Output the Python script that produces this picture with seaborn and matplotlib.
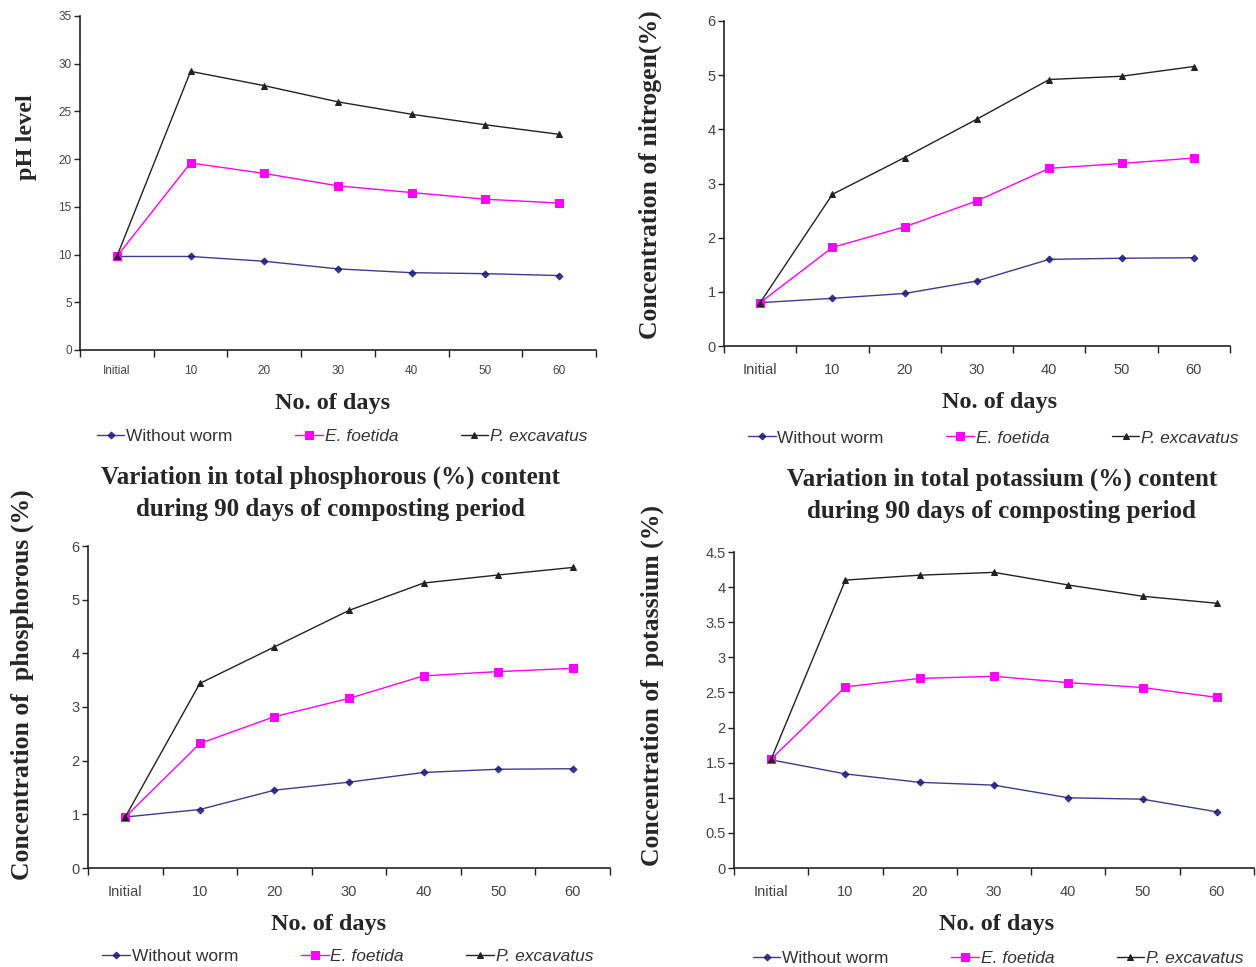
import numpy as np
import pandas as pd
import matplotlib
matplotlib.use("Agg")
import matplotlib.pyplot as plt
import seaborn as sns

sns.set_style("white")
plt.rcParams['font.family'] = ['Liberation Sans', 'DejaVu Sans']

# ---------------- data ----------------
days = ["Initial", "10", "20", "30", "40", "50", "60"]
series_names = ["Without worm", "E. foetida", "P. excavatus"]

ph_without = [9.8, 9.8, 9.3, 8.5, 8.1, 8.0, 7.8]
ph_foetida = [9.8, 19.6, 18.5, 17.2, 16.5, 15.8, 15.4]
ph_excavatus = [9.8, 29.2, 27.7, 26.0, 24.7, 23.6, 22.6]

n_without = [0.80, 0.88, 0.97, 1.20, 1.60, 1.62, 1.63]
n_foetida = [0.80, 1.82, 2.20, 2.68, 3.28, 3.37, 3.47]
n_excavatus = [0.80, 2.80, 3.48, 4.19, 4.92, 4.98, 5.16]

p_without = [0.95, 1.09, 1.45, 1.60, 1.78, 1.84, 1.85]
p_foetida = [0.95, 2.32, 2.82, 3.16, 3.58, 3.66, 3.72]
p_excavatus = [0.95, 3.44, 4.12, 4.80, 5.31, 5.46, 5.60]

k_without = [1.54, 1.34, 1.22, 1.18, 1.00, 0.98, 0.80]
k_foetida = [1.55, 2.58, 2.70, 2.73, 2.64, 2.57, 2.43]
k_excavatus = [1.55, 4.10, 4.17, 4.21, 4.03, 3.87, 3.77]

ph_yticks = [0, 5, 10, 15, 20, 25, 30, 35]
n_yticks = [0, 1, 2, 3, 4, 5, 6]
p_yticks = [0, 1, 2, 3, 4, 5, 6]
k_yticks = [0, 0.5, 1, 1.5, 2, 2.5, 3, 3.5, 4, 4.5]
k_yticklabels = ["0", "0.5", "1", "1.5", "2", "2.5", "3", "3.5", "4", "4.5"]

# ---------------- styles ----------------
styles = {
    "Without worm": dict(color="#1a1a7a", marker="D", markersize=3.5, lw=1.0, alpha=0.85),
    "E. foetida": dict(color="#ff00ff", marker="s", markersize=6, lw=1.0, alpha=1.0),
    "P. excavatus": dict(color="#222222", marker="^", markersize=5, lw=1.0, alpha=1.0),
}

W, H = 1256, 967
fig = plt.figure(figsize=(W / 100, H / 100), dpi=100)
serif = ['Liberation Serif', 'DejaVu Serif']


def add_ax(left, right, top, bottom):
    return fig.add_axes([left / W, (H - bottom) / H, (right - left) / W, (bottom - top) / H])


def draw_panel(ax, vals, yticks, yticklabels, ylabel, ylab_xy, xlab_xy, leg_xy,
               tick_fs, xpad, ylab_fs=17, title=None, title_xy=None):
    for name, v in zip(series_names, vals):
        st = styles[name]
        df = pd.DataFrame({"Day": days, "Value": v})
        sns.lineplot(data=df, x="Day", y="Value", ax=ax, sort=False,
                     color=st["color"], marker=st["marker"], markersize=st["markersize"],
                     markeredgecolor=st["color"], markerfacecolor=st["color"],
                     linewidth=st["lw"], alpha=st["alpha"], label=name)
    ax.set_xlim(-0.5, 6.5)
    ax.set_ylim(yticks[0], yticks[-1])
    ax.set_yticks(yticks)
    ax.set_yticklabels(yticklabels if yticklabels else [str(t) for t in yticks])
    # boundaries as major ticks, labels at centers as minor ticks
    ax.set_xticks(np.arange(-0.5, 7, 1.0))
    ax.set_xticklabels([""] * 8)
    ax.set_xticks(np.arange(7), minor=True)
    ax.set_xticklabels(days, minor=True)
    ax.tick_params(axis='x', which='major', length=5, width=1, color='#222222', direction='out', bottom=True)
    ax.tick_params(axis='x', which='minor', length=0, pad=xpad, labelsize=tick_fs, labelcolor='#444444')
    ax.tick_params(axis='y', length=4, width=1, color='#222222', direction='out', left=True,
                   labelsize=tick_fs, labelcolor='#444444', pad=2)
    for s in ['top', 'right']:
        ax.spines[s].set_visible(False)
    for s in ['left', 'bottom']:
        ax.spines[s].set_color('#222222')
        ax.spines[s].set_linewidth(1.2)
    ax.grid(False)

    ax.set_xlabel("No. of days", fontfamily=serif, fontweight='bold', fontsize=17.5)
    ax.xaxis.set_label_coords(*xlab_xy)
    ax.xaxis.label.set_verticalalignment('center')
    ax.set_ylabel(ylabel, fontfamily=serif, fontweight='bold', fontsize=ylab_fs)
    ax.yaxis.set_label_coords(*ylab_xy)
    ax.yaxis.label.set_verticalalignment('center')

    leg = ax.legend(loc='center', bbox_to_anchor=leg_xy, ncol=3, frameon=False,
                    fontsize=12.5, handlelength=1.6, handletextpad=0.1, columnspacing=3.6,
                    borderaxespad=0)
    for t in leg.get_texts():
        t.set_color('#333333')
        if t.get_text() != "Without worm":
            t.set_fontstyle('italic')

    if title:
        ax.set_title(title, x=title_xy[0], y=title_xy[1], va='center', ha='center',
                     fontfamily=serif, fontweight='bold', fontsize=18, linespacing=1.5)


ax1 = add_ax(80, 596, 16, 350)
draw_panel(ax1, [ph_without, ph_foetida, ph_excavatus], ph_yticks, None, "pH level",
           (-0.103, 0.638), (0.49, -0.159), (0.508, -0.26), 8.5, 11, ylab_fs=17.5)

ax2 = add_ax(724, 1230, 21, 346)
draw_panel(ax2, [n_without, n_foetida, n_excavatus], n_yticks, None, "Concentration of nitrogen(%)",
           (-0.146, 0.526), (0.545, -0.175), (0.532, -0.283), 10.5, 12, ylab_fs=18.5)

ax3 = add_ax(88, 610, 546, 868)
draw_panel(ax3, [p_without, p_foetida, p_excavatus], p_yticks, None, "Concentration of  phosphorous (%)",
           (-0.126, 0.568), (0.46, -0.177), (0.498, -0.276), 10.5, 12, ylab_fs=18.5,
           title="Variation in total phosphorous (%) content\nduring 90 days of composting period",
           title_xy=(0.464, 1.137))

ax4 = add_ax(734, 1254, 552, 868)
draw_panel(ax4, [k_without, k_foetida, k_excavatus], k_yticks, k_yticklabels, "Concentration of  potassium (%)",
           (-0.157, 0.576), (0.504, -0.18), (0.508, -0.285), 10.5, 12, ylab_fs=18.5,
           title="Variation in total potassium (%) content\nduring 90 days of composting period",
           title_xy=(0.515, 1.152))

fig.savefig("out.png", dpi=100, facecolor='white')
